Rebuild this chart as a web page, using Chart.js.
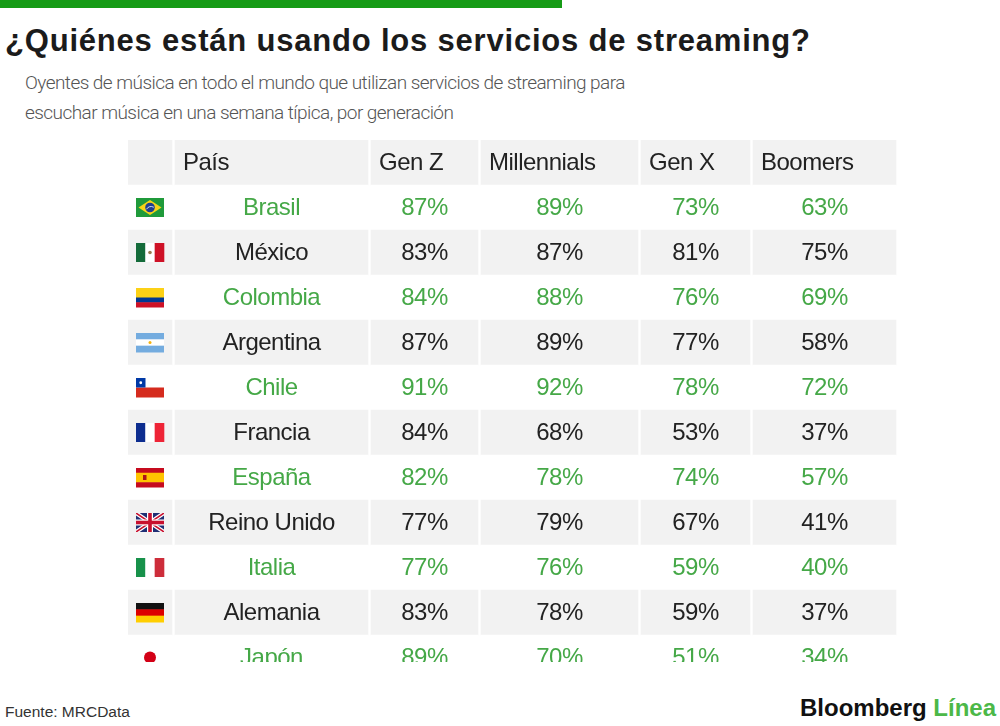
<!DOCTYPE html>
<html>
<head>
<meta charset="utf-8">
<script src="https://cdn.jsdelivr.net/npm/chart.js@4.4.0/dist/chart.umd.min.js"></script>
<style>
  html, body { margin: 0; padding: 0; background: #fff; }
  body { width: 1000px; height: 726px; position: relative; overflow: hidden; font-family: 'Liberation Sans', Arial, sans-serif; }
  #barra { position: absolute; left: 0; top: 0; width: 562px; height: 8px; background: #169b16; }
  #titulo { position: absolute; left: 5px; top: 23px; margin: 0; font-size: 31px; font-weight: bold; color: #1b1b1b; letter-spacing: 0.8px; white-space: nowrap; }
  #subtitulo { position: absolute; left: 25px; top: 68px; margin: 0; font-family: Roboto, sans-serif; font-weight: 300; font-size: 19px; line-height: 30px; color: #555; letter-spacing: -0.55px; white-space: nowrap; }
  #tabla { position: absolute; left: 128px; top: 140px; width: 770px; height: 522px; overflow: hidden; }
  #tabla-inner { position: relative; width: 770px; height: 540px; }
  #fuente { position: absolute; left: 5px; top: 703px; font-size: 15.5px; color: #333; }
  #logo { position: absolute; left: 800px; top: 694px; font-size: 24px; font-weight: bold; color: #111; white-space: nowrap; }
  #logo span { color: #4cb848; }
</style>
</head>
<body>
<div id="barra"></div>
<h1 id="titulo">¿Quiénes están usando los servicios de streaming?</h1>
<p id="subtitulo">Oyentes de música en todo el mundo que utilizan servicios de streaming para<br>escuchar música en una semana típica, por generación</p>
<div id="tabla"><div id="tabla-inner"><canvas id="tabla-chart"></canvas></div></div>
<div id="fuente">Fuente: MRCData</div>
<div id="logo">Bloomberg <span>Línea</span></div>

<script>
const encabezados = ['', 'País', 'Gen Z', 'Millennials', 'Gen X', 'Boomers']
const paises = ['Brasil', 'México', 'Colombia', 'Argentina', 'Chile', 'Francia', 'España', 'Reino Unido', 'Italia', 'Alemania', 'Japón']
const banderas = ['br', 'mx', 'co', 'ar', 'cl', 'fr', 'es', 'gb', 'it', 'de', 'jp']
const genZ = [87, 83, 84, 87, 91, 84, 82, 77, 77, 83, 89]
const millennials = [89, 87, 88, 89, 92, 68, 78, 79, 76, 78, 70]
const genX = [73, 81, 76, 77, 78, 53, 74, 67, 59, 59, 51]
const boomers = [63, 75, 69, 58, 72, 37, 57, 41, 40, 37, 34]

// column extents inside the table (pixels of the x scale)
const colEdges = [[0, 44], [47, 240], [243, 350], [353, 510], [513, 622], [625, 768]]

const GRAY = '#f2f2f2'
const GREEN = '#45a847'
const DARK = '#222222'

const filas = ['header'].concat(paises)
const columnas = [
    banderas,
    paises,
    genZ.map(v => v + '%'),
    millennials.map(v => v + '%'),
    genX.map(v => v + '%'),
    boomers.map(v => v + '%')
]

function drawFlag(ctx, code, cx, cy){
    const w = 28, h = 19
    const x = cx - w / 2, y = cy - h / 2
    const hStripes = (cols, weights) => {
        const total = weights.reduce((a, b) => a + b, 0)
        let yy = y
        cols.forEach((c, i) => {
            const hh = h * weights[i] / total
            ctx.fillStyle = c
            ctx.fillRect(x, yy, w, hh + 0.5)
            yy += hh
        })
    }
    const vStripes = (cols) => {
        cols.forEach((c, i) => {
            ctx.fillStyle = c
            ctx.fillRect(x + i * w / 3, y, w / 3 + 0.3, h)
        })
    }
    ctx.save()
    if (code === 'br') {
        ctx.fillStyle = '#1f9a3a'
        ctx.fillRect(x, y, w, h)
        ctx.fillStyle = '#f7d417'
        ctx.beginPath()
        ctx.moveTo(cx, y + 2); ctx.lineTo(x + w - 2.5, cy); ctx.lineTo(cx, y + h - 2); ctx.lineTo(x + 2.5, cy)
        ctx.closePath(); ctx.fill()
        ctx.fillStyle = '#1f3f8f'
        ctx.beginPath(); ctx.arc(cx, cy, 4.8, 0, Math.PI * 2); ctx.fill()
        ctx.strokeStyle = '#fff'; ctx.lineWidth = 0.8
        ctx.beginPath(); ctx.arc(cx + 1, cy + 4, 5, Math.PI * 1.15, Math.PI * 1.7); ctx.stroke()
    } else if (code === 'mx') {
        vStripes(['#146b3a', '#ffffff', '#ce1126'])
        ctx.fillStyle = '#9a7b4f'
        ctx.beginPath(); ctx.arc(cx, cy, 1.8, 0, Math.PI * 2); ctx.fill()
    } else if (code === 'co') {
        hStripes(['#fcd116', '#003893', '#ce1126'], [2, 1, 1])
    } else if (code === 'ar') {
        hStripes(['#74acdf', '#ffffff', '#74acdf'], [1, 1, 1])
        ctx.fillStyle = '#f6b40e'
        ctx.beginPath(); ctx.arc(cx, cy, 1.5, 0, Math.PI * 2); ctx.fill()
    } else if (code === 'cl') {
        hStripes(['#ffffff', '#d52b1e'], [1, 1])
        ctx.fillStyle = '#0039a6'
        ctx.fillRect(x, y, h / 2, h / 2)
        ctx.fillStyle = '#fff'
        ctx.beginPath(); ctx.arc(x + h / 4, y + h / 4, 1.4, 0, Math.PI * 2); ctx.fill()
    } else if (code === 'fr') {
        vStripes(['#0d2d8f', '#ffffff', '#ee2436'])
    } else if (code === 'es') {
        hStripes(['#c60b1e', '#ffc400', '#c60b1e'], [1, 2, 1])
        ctx.fillStyle = '#ad1519'
        ctx.fillRect(x + 7, cy - 2.5, 3.5, 5)
    } else if (code === 'gb') {
        ctx.fillStyle = '#1f2f74'
        ctx.fillRect(x, y, w, h)
        ctx.beginPath(); ctx.rect(x, y, w, h); ctx.clip()
        ctx.strokeStyle = '#fff'; ctx.lineWidth = 4
        ctx.beginPath(); ctx.moveTo(x, y); ctx.lineTo(x + w, y + h); ctx.moveTo(x + w, y); ctx.lineTo(x, y + h); ctx.stroke()
        ctx.strokeStyle = '#c8102e'; ctx.lineWidth = 1.5
        ctx.beginPath(); ctx.moveTo(x, y); ctx.lineTo(x + w, y + h); ctx.moveTo(x + w, y); ctx.lineTo(x, y + h); ctx.stroke()
        ctx.fillStyle = '#fff'
        ctx.fillRect(cx - 3, y, 6, h); ctx.fillRect(x, cy - 3, w, 6)
        ctx.fillStyle = '#c8102e'
        ctx.fillRect(cx - 1.8, y, 3.6, h); ctx.fillRect(x, cy - 1.8, w, 3.6)
    } else if (code === 'it') {
        vStripes(['#17914a', '#ffffff', '#cd2d3a'])
    } else if (code === 'de') {
        hStripes(['#111111', '#dd0000', '#ffce00'], [1, 1, 1])
    } else if (code === 'jp') {
        ctx.fillStyle = '#d30016'
        ctx.beginPath(); ctx.arc(cx, cy, 6, 0, Math.PI * 2); ctx.fill()
    }
    ctx.restore()
}

const cellText = {
    id: 'cellText',
    afterDatasetsDraw(chart){
        const ctx = chart.ctx
        ctx.save()
        ctx.textBaseline = 'middle'
        ctx.font = '24px "Liberation Sans", Arial, sans-serif'
        ctx.letterSpacing = '-0.5px'
        chart.data.datasets.forEach((ds, c) => {
            const meta = chart.getDatasetMeta(c)
            meta.data.forEach((el, i) => {
                const left = Math.min(el.x, el.base)
                const right = Math.max(el.x, el.base)
                const cy = el.y
                if (i === 0) {
                    if (!encabezados[c]) return
                    ctx.fillStyle = DARK
                    ctx.textAlign = 'left'
                    ctx.fillText(encabezados[c], left + 8, cy + 1)
                    return
                }
                const value = columnas[c][i - 1]
                if (c === 0) {
                    drawFlag(ctx, value, (left + right) / 2, cy)
                    return
                }
                ctx.fillStyle = i % 2 === 1 ? GREEN : DARK
                ctx.textAlign = 'center'
                ctx.fillText(value, (left + right) / 2, cy + 1)
            })
        })
        ctx.restore()
    }
}

function initTablaChart(){
    const datasets = colEdges.map((edge, c) => ({
        label: encabezados[c] || 'bandera',
        data: filas.map(() => [edge[0], edge[1]]),
        backgroundColor: filas.map((f, i) => i % 2 === 0 ? GRAY : '#ffffff'),
        borderWidth: 0,
        grouped: false,
        categoryPercentage: 1,
        barPercentage: 1
    }))

    const ctx = document.getElementById('tabla-chart')
    const myChart = new Chart(ctx, {
        type: 'bar',
        data: {
            labels: filas,
            datasets: datasets
        },
        options: {
            indexAxis: 'y',
            responsive: true,
            maintainAspectRatio: false,
            animation: false,
            layout: { padding: 0 },
            scales: {
                x: { type: 'linear', min: 0, max: 770, display: false },
                y: { display: false }
            },
            plugins: {
                legend: { display: false },
                tooltip: { enabled: false },
                title: { display: false }
            }
        },
        plugins: [cellText]
    })
}

initTablaChart()
</script>
</body>
</html>
